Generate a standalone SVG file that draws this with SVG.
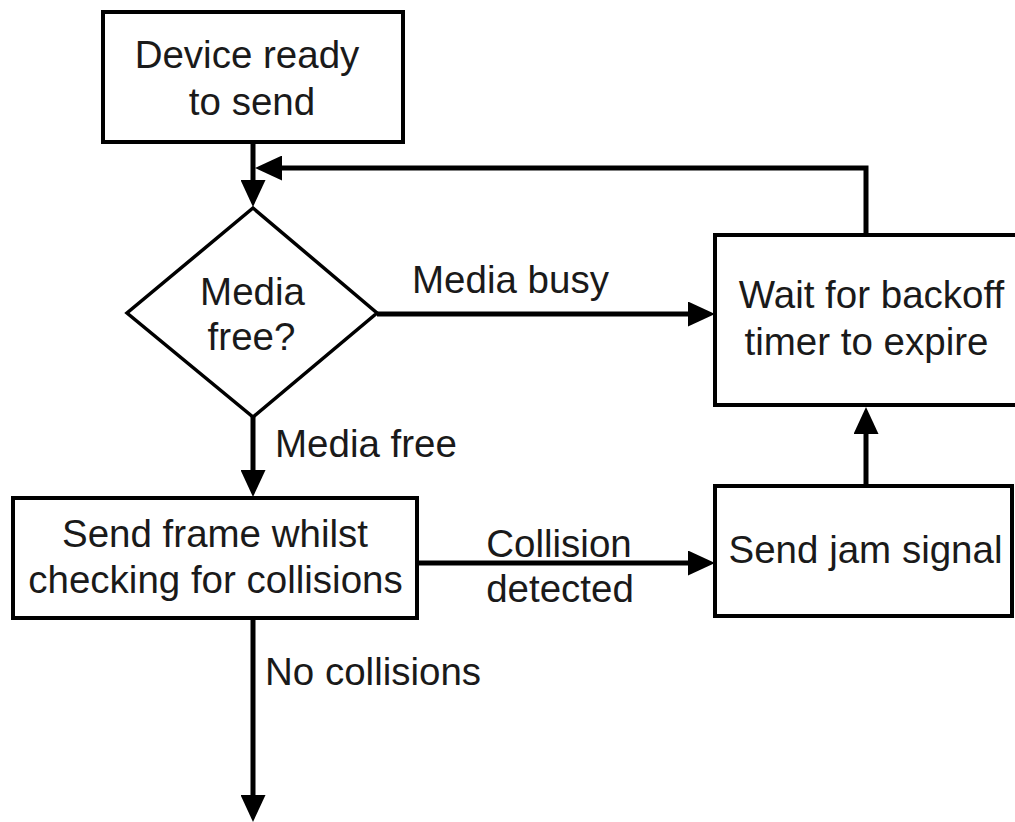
<svg xmlns="http://www.w3.org/2000/svg" width="1015" height="822" viewBox="0 0 1015 822">
<defs>
<style>
.box{fill:#fff;stroke:#000;stroke-width:4}
.dia{fill:#fff;stroke:#000;stroke-width:3.5}
.t{font-family:"Liberation Sans",Arial,sans-serif;font-size:38.5px;fill:#1a1a1a}
.c{text-anchor:middle}
.ln{fill:none;stroke:#000;stroke-width:5;marker-end:url(#ah)}
</style>
<marker id="ah" markerUnits="userSpaceOnUse" markerWidth="27" markerHeight="25" viewBox="0 0 27 25" refX="7" refY="12.5" orient="auto">
<path d="M0,0 L27,12.5 L0,25 Z" fill="#000"/>
</marker>
</defs>
<rect width="1015" height="822" fill="#fff"/>
<g id="connectors">
<path class="ln" d="M253,142 V187"/>
<path class="ln" d="M866,235 V168 H275"/>
<path class="ln" d="M377,314 H695"/>
<path class="ln" d="M253,417 V477"/>
<path class="ln" d="M417,563 H695"/>
<path class="ln" d="M866,486 V427"/>
<path class="ln" d="M253,618 V802"/>
</g>
<g id="device-ready">
<rect class="box" x="103" y="12" width="300" height="130"/>
<text class="t c" x="247" y="68">Device ready</text>
<text class="t c" x="252" y="115">to send</text>
</g>
<g id="media-free-decision">
<polygon class="dia" points="253,208 377,313 253,417 127,313"/>
<text class="t c" x="252.5" y="305">Media</text>
<text class="t c" x="251.5" y="350">free?</text>
</g>
<g id="wait-backoff">
<rect class="box" x="715" y="235" width="310" height="170"/>
<text class="t c" x="871.5" y="308">Wait for backoff</text>
<text class="t c" x="866.5" y="355">timer to expire</text>
</g>
<g id="send-frame">
<rect class="box" x="13" y="498" width="404" height="120"/>
<text class="t c" x="215" y="547">Send frame whilst</text>
<text class="t c" x="215.5" y="593">checking for collisions</text>
</g>
<g id="send-jam">
<rect class="box" x="715" y="486" width="297" height="130"/>
<text class="t c" x="865.5" y="563">Send jam signal</text>
</g>
<g id="labels">
<text class="t c" x="510.5" y="293">Media busy</text>
<text class="t" x="275" y="457">Media free</text>
<text class="t c" x="559" y="557">Collision</text>
<text class="t c" x="560" y="602">detected</text>
<text class="t" x="265" y="685">No collisions</text>
</g>
</svg>
